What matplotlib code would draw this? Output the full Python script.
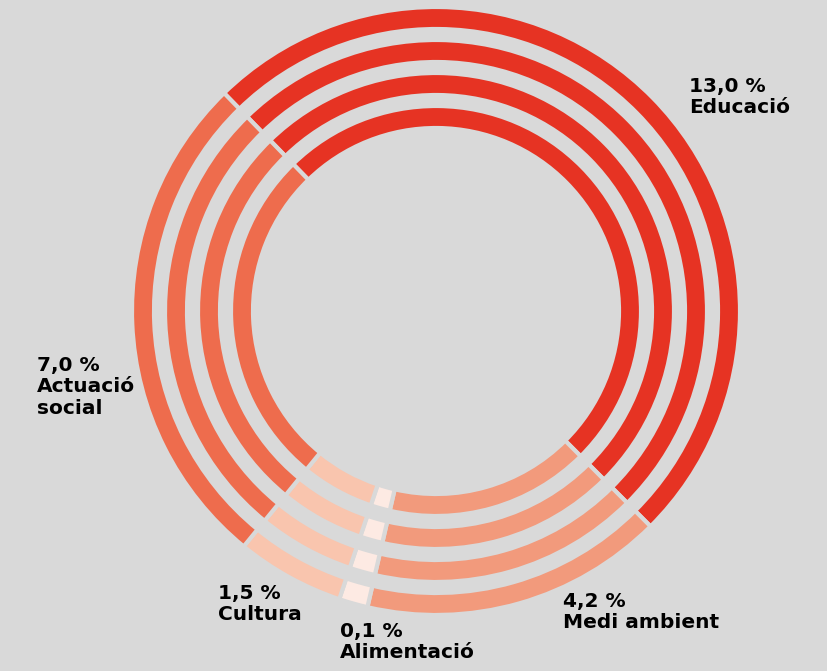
import numpy as np
import matplotlib
matplotlib.use('Agg')
import matplotlib.pyplot as plt

# data (percentatges)
labels = ['Educació', 'Medi ambient', 'Alimentació', 'Cultura', 'Actuació social']
values = [13.0, 4.2, 0.1, 1.5, 7.0]
value_text = ['13,0 %', '4,2 %', '0,1 %', '1,5 %', '7,0 %']
colors = ['#E63323', '#F29A7C', '#FDEAE3', '#F9C5AE', '#EE6C4D']
bg = '#D9D9D9'

# minimum visible share so the tiny slice still shows
shares = np.maximum(values, 0.4)

W, H = 827, 671
fig = plt.figure(figsize=(W / 100, H / 100), dpi=100, facecolor=bg)
ax = fig.add_axes([0, 0, 1, 1])
ax.set_facecolor(bg)

cx, cy = 436, H - 311
radii = [304, 271, 238, 205]
for r in radii:
    ax.pie(shares, radius=r, center=(cx, cy), startangle=134.2, counterclock=False,
           colors=colors, wedgeprops=dict(width=22, edgecolor=bg, linewidth=3))

ax.set_xlim(0, W)
ax.set_ylim(0, H)
ax.set_aspect('equal')
ax.axis('off')

# label positions (top-left, pixels)
label_pos = {
    'Educació': (689, 77),
    'Actuació social': (37, 356),
    'Cultura': (218, 584),
    'Alimentació': (340, 622),
    'Medi ambient': (563, 592),
}
for lab, txt in zip(labels, value_text):
    x, y = label_pos[lab]
    name = lab.replace('Actuació social', 'Actuació\nsocial')
    ax.text(x, H - y, txt + '\n' + name, ha='left', va='top', fontsize=14.5,
            fontfamily='DejaVu Sans', fontweight='bold', color='black', linespacing=1.15)

fig.savefig('out.png', dpi=100, facecolor=bg)
